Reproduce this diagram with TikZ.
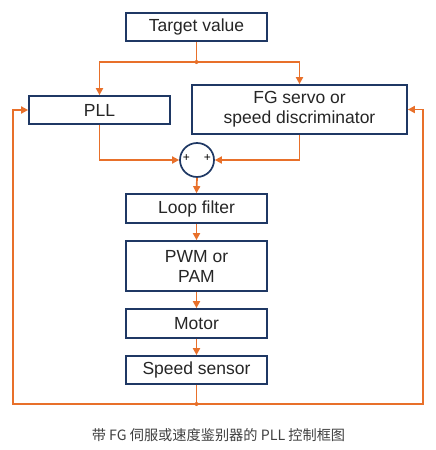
\documentclass[tikz,border=0pt]{standalone}
\usepackage{fontspec}
\setmainfont{Liberation Sans}
\newfontfamily\cjkfont{Noto Sans CJK SC}
\usepackage{tikz}
\usetikzlibrary{arrows.meta}
\definecolor{boxline}{HTML}{1F3864}
\definecolor{flow}{HTML}{E8702A}
\definecolor{captext}{HTML}{404040}
\tikzset{block/.style={draw=boxline, line width=1.7pt, fill=white, text=black!85,
           minimum width=141pt, minimum height=28pt, inner sep=2pt,
           align=center, font=\fontsize{17.5}{20}\selectfont},
         sumnode/.style={circle, draw=boxline, line width=1.7pt, fill=white,
           minimum size=34pt, inner sep=0pt},
         signal/.style={flow, line width=1.7pt},
         joint/.style={flow}}

\begin{document}
\begin{tikzpicture}[x=1pt, y=-1pt, >={Triangle[length=7pt,width=7pt]}]
\useasboundingbox (0,0) rectangle (436,450);
\node[block] (target) at (196.5,27) {Target value};
\node[block] (pll) at (99.5,110) {PLL};
\node[block, minimum width=215pt, minimum height=49pt] (fg) at (299.5,109.5) {FG servo or\\speed discriminator};
\node[sumnode] (sum) at (197,160) {};
\node[font=\fontsize{12}{12}\selectfont] (plusl) at (186.5,158) {+};
\node[font=\fontsize{12}{12}\selectfont] (plusr) at (207.5,158) {+};
\node[block, minimum height=29pt] (loop) at (196.5,208.5) {Loop filter};
\node[block, minimum height=50pt] (pwm) at (196.5,266) {PWM or\\PAM};
\node[block, minimum height=29pt] (motor) at (196.5,323.5) {Motor};
\node[block] (sensor) at (196.5,370) {Speed sensor};
\node[text=captext, font=\cjkfont\fontsize{14.2}{16}\selectfont] (caption) at (218.5,435) {带 FG 伺服或速度鉴别器的 PLL 控制框图};
% branch points
\coordinate (split) at (196.5,62);
\coordinate (fb) at (196.5,404);
\coordinate (fbl) at (13,404);
\coordinate (fbr) at (423,404);
\draw[signal] (target.south) -- (split);
\draw[signal,->] (split) -| (pll.north);
\draw[signal,->] (split) -| (fg.north);
\fill[joint] (split) circle (2pt);
\draw[signal,->] (pll.south) |- (sum.west);
\draw[signal,->] (fg.south) |- (sum.east);
\draw[signal,->] (sum.south) -- (loop.north);
\draw[signal,->] (loop.south) -- (pwm.north);
\draw[signal,->] (pwm.south) -- (motor.north);
\draw[signal,->] (motor.south) -- (sensor.north);
% feedback
\draw[signal] (sensor.south) -- (fb);
\draw[signal,->] (fb) -- (fbl) |- (pll.west);
\draw[signal,->] (fb) -- (fbr) |- (fg.east);
\fill[joint] (fb) circle (2pt);
\end{tikzpicture}
\end{document}
